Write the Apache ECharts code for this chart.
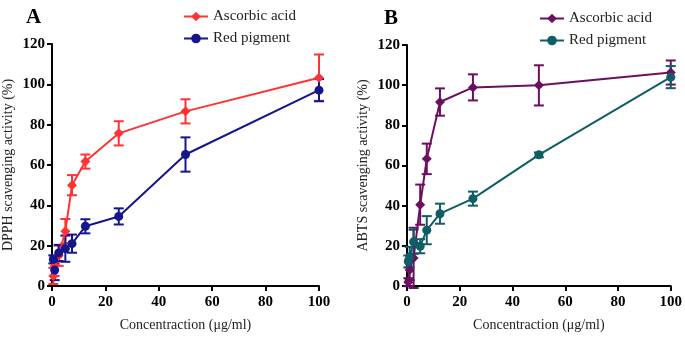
<!DOCTYPE html>
<html><head><meta charset="utf-8">
<script src="https://cdn.jsdelivr.net/npm/echarts@6/dist/echarts.min.js"></script>
<style>html,body{margin:0;padding:0;background:#fff}#c{width:685px;height:337px}</style>
</head><body><div id="c"></div>
<script>
// Concentrations (µg/ml)
const conc = [0.5, 1, 2.5, 5, 7.5, 12.5, 25, 50, 100];
// Panel A: DPPH
const dpphAscorbic = [5, 10, 15, 27.2, 50, 61.7, 75.7, 86.6, 103.3];
const dpphAscorbicErr = [4, 5, 5, 6, 5, 3.5, 6, 6, 11.5];
const dpphPigment = [13.2, 7.9, 16.4, 18.5, 21, 29.6, 34.5, 65.2, 97.1];
const dpphPigmentErr = [2, 5, 4, 6.5, 4.5, 3.5, 4, 8.5, 5.5];
// Panel B: ABTS
const abtsAscorbic = [1.9, 8, 14, 40.5, 63.3, 91.6, 98.9, 99.9, 106.3];
const abtsAscorbicErr = [2, 5, 15, 10, 7.6, 6.8, 6.5, 10, 6];
const abtsPigment = [12.2, 14.5, 22, 19.8, 27.8, 36, 43.5, 65.3, 104];
const abtsPigmentErr = [3, 5, 6, 3.5, 7, 5, 3.5, 1.2, 5.5];
// Tick settings
const xMin = 0, xMax = 100, xStep = 20;
const yMin = 0, yMax = 120, yStep = 20;

const serif = '"Liberation Serif","Times New Roman",serif';
const cA = '#ff3333', cB = '#15158c', cC = '#6b1060', cD = '#0f5d66';

function pairs(ys){ return conc.map((x,i)=>[x, ys[i]]); }
function errs(ys, es){ return conc.map((x,i)=>[x, ys[i]-es[i], ys[i]+es[i]]); }
function errSeries(name, xi, yi, data, color){
  return {
    type:'custom', name: name, xAxisIndex:xi, yAxisIndex:yi, data:data, z:1,
    renderItem:function(params, api){
      const x = api.value(0);
      const lo = api.coord([x, api.value(1)]);
      const hi = api.coord([x, api.value(2)]);
      const w = 5;
      const st = {stroke: color, lineWidth: 2, fill: null};
      return {type:'group', children:[
        {type:'line', shape:{x1:lo[0], y1:lo[1], x2:hi[0], y2:hi[1]}, style:st},
        {type:'line', shape:{x1:lo[0]-w, y1:lo[1], x2:lo[0]+w, y2:lo[1]}, style:st},
        {type:'line', shape:{x1:hi[0]-w, y1:hi[1], x2:hi[0]+w, y2:hi[1]}, style:st}
      ]};
    },
    silent:true
  };
}
function lineSeries(name, xi, yi, ys, color, sym){
  return {type:'line', name:name, xAxisIndex:xi, yAxisIndex:yi, data:pairs(ys),
    symbol: sym, symbolSize: sym==='diamond'?10:9, showSymbol:true,
    lineStyle:{color:color, width:2}, itemStyle:{color:color}, z:3, animation:false};
}
function xAxis(gi){
  return {type:'value', gridIndex:gi, min:xMin, max:xMax, interval:xStep,
    name:'Concentraction (μg/ml)', nameLocation:'middle', nameGap:32,
    nameTextStyle:{fontFamily:serif, fontSize:14, color:'#222'},
    axisLine:{show:true, lineStyle:{color:'#000', width:2}},
    axisTick:{show:true, length:5, lineStyle:{color:'#000', width:2}},
    axisLabel:{fontFamily:serif, fontWeight:'bold', fontSize:15, color:'#000', margin:9},
    splitLine:{show:false}};
}
function yAxis(gi, name){
  return {type:'value', gridIndex:gi, min:yMin, max:yMax, interval:yStep,
    name:name, nameLocation:'middle', nameGap:37,
    nameTextStyle:{fontFamily:serif, fontSize:14, color:'#222'},
    axisLine:{show:true, lineStyle:{color:'#000', width:2}},
    axisTick:{show:true, length:5, lineStyle:{color:'#000', width:2}},
    axisLabel:{fontFamily:serif, fontWeight:'bold', fontSize:15, color:'#000', margin:7},
    splitLine:{show:false}};
}
const chart = echarts.init(document.getElementById('c'), null, {renderer:'canvas'});
chart.setOption({
  animation:false,
  title:[
    {text:'A', left:21, top:2, textStyle:{fontFamily:serif, fontWeight:'bold', fontSize:21, color:'#000'}},
    {text:'B', left:379, top:3, textStyle:{fontFamily:serif, fontWeight:'bold', fontSize:21, color:'#000'}}
  ],
  legend:[
    {orient:'vertical', left:178, top:4, itemWidth:24, itemHeight:12, itemGap:7,
     data:['Ascorbic acid','Red pigment'],
     textStyle:{fontFamily:serif, fontSize:15, color:'#222'}},
    {orient:'vertical', left:534, top:6, itemWidth:24, itemHeight:12, itemGap:7,
     data:['B:Ascorbic acid','B:Red pigment'],
     formatter:function(n){return n.replace('B:','');},
     textStyle:{fontFamily:serif, fontSize:15, color:'#222'}}
  ],
  grid:[
    {left:50, right:366, top:44, bottom:45},
    {left:407, right:12, top:45, bottom:45}
  ],
  xAxis:[xAxis(0), xAxis(1)],
  yAxis:[yAxis(0,'DPPH scavenging activity (%)'), yAxis(1,'ABTS scavenging activity (%)')],
  series:[
    errSeries('eA1',0,0,errs(dpphAscorbic,dpphAscorbicErr),cA),
    errSeries('eA2',0,0,errs(dpphPigment,dpphPigmentErr),cB),
    lineSeries('Ascorbic acid',0,0,dpphAscorbic,cA,'diamond'),
    lineSeries('Red pigment',0,0,dpphPigment,cB,'circle'),
    errSeries('eB1',1,1,errs(abtsAscorbic,abtsAscorbicErr),cC),
    errSeries('eB2',1,1,errs(abtsPigment,abtsPigmentErr),cD),
    lineSeries('B:Ascorbic acid',1,1,abtsAscorbic,cC,'diamond'),
    lineSeries('B:Red pigment',1,1,abtsPigment,cD,'circle')
  ]
});
</script></body></html>
